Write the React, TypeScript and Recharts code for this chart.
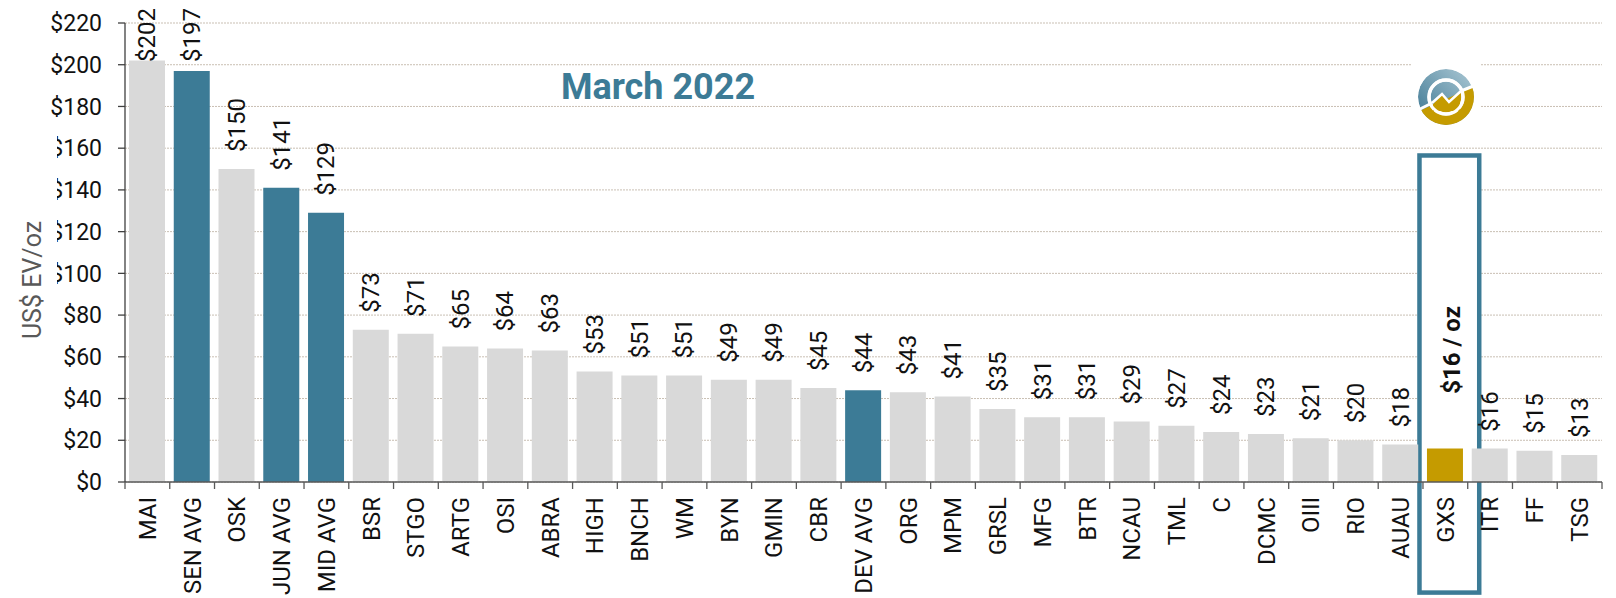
import React from 'react';
import {
  BarChart,
  Bar,
  Cell,
  XAxis,
  YAxis,
  CartesianGrid,
  LabelList,
  ReferenceArea,
} from 'recharts';

const categories = [
  'MAI', 'SEN AVG', 'OSK', 'JUN AVG', 'MID AVG', 'BSR', 'STGO', 'ARTG', 'OSI', 'ABRA',
  'HIGH', 'BNCH', 'WM', 'BYN', 'GMIN', 'CBR', 'DEV AVG', 'ORG', 'MPM', 'GRSL',
  'MFG', 'BTR', 'NCAU', 'TML', 'C', 'DCMC', 'OIII', 'RIO', 'AUAU', 'GXS',
  'ITR', 'FF', 'TSG',
];

const evPerOz = [
  202, 197, 150, 141, 129, 73, 71, 65, 64, 63,
  53, 51, 51, 49, 49, 45, 44, 43, 41, 35,
  31, 31, 29, 27, 24, 23, 21, 20, 18, 16,
  16, 15, 13,
];

const averages = ['SEN AVG', 'JUN AVG', 'MID AVG', 'DEV AVG'];
const highlight = 'GXS';
const yTicks = [0, 20, 40, 60, 80, 100, 120, 140, 160, 180, 200, 220];

const GREY = '#d9d9d9';
const TEAL = '#3c7b96';
const GOLD = '#c59b00';
const FONT = 'Roboto, "Liberation Sans", sans-serif';

const W = 1616;
const H = 598;
const MARGIN = { top: 23, right: 14, left: 0, bottom: 0 };
const Y_AXIS_W = 125;
const BAND = (W - MARGIN.left - MARGIN.right - Y_AXIS_W) / categories.length;

const data = categories.map((name, i) => ({ name, value: evPerOz[i] }));

function barColor(name: string) {
  if (name === highlight) return GOLD;
  if (averages.includes(name)) return TEAL;
  return GREY;
}

function CategoryTick(props: any) {
  const { x, y, payload, index } = props;
  const left = x - BAND / 2;
  const last = index === categories.length - 1;
  return (
    <g>
      <line x1={left} x2={left} y1={y} y2={y + 7} stroke="#595959" strokeWidth={1.3} />
      {last && <line x1={x + BAND / 2} x2={x + BAND / 2} y1={y} y2={y + 7} stroke="#595959" strokeWidth={1.3} />}
      <text
        x={x}
        y={y + 15}
        transform={`rotate(-90, ${x}, ${y + 15})`}
        textAnchor="end"
        dy="0.35em"
        fontSize={24}
        fontFamily={FONT}
        fill="#111"
      >
        {payload.value}
      </text>
    </g>
  );
}

function ValueLabel(props: any) {
  const { x, y, width, value, index } = props;
  if (categories[index] === highlight) return null;
  const cx = x + width / 2;
  const text = `$${value}`;
  const len = text.length * 13.5;
  const start = Math.max(y - 17, 8 + len);
  return (
    <text
      x={cx}
      y={start}
      transform={`rotate(-90, ${cx}, ${start})`}
      textAnchor="start"
      dy="0.35em"
      fontSize={24}
      fontFamily={FONT}
      fill="#111"
    >
      {text}
    </text>
  );
}

function HighlightBox(props: any) {
  const { x, y, width, height } = props;
  const bx = x - 3.5;
  const bw = width + 15;
  const cx = bx + bw / 2 + 2;
  const cy = 350;
  return (
    <g>
      <rect x={bx} y={y} width={bw} height={height} fill="#fff" stroke={TEAL} strokeWidth={4.5} />
      <text
        x={cx}
        y={cy}
        transform={`rotate(-90, ${cx}, ${cy})`}
        textAnchor="middle"
        dy="0.35em"
        fontSize={24}
        fontWeight={700}
        fontFamily={FONT}
        fill="#111"
      >
        $16 / oz
      </text>
    </g>
  );
}

function Overlay() {
  const lx = 1446;
  const ly = 97;
  return (
    <svg width={W} height={H} style={{ position: 'absolute', left: 0, top: 0, pointerEvents: 'none' }}>
      <defs>
        <linearGradient id="logoTeal" x1="0" y1="1" x2="1" y2="0">
          <stop offset="0%" stopColor="#3a7591" />
          <stop offset="100%" stopColor="#adc9d5" />
        </linearGradient>
        <clipPath id="logoClip">
          <circle cx={lx} cy={ly} r={28} />
        </clipPath>
      </defs>
      <rect x={0} y={128} width={57} height={310} fill="#fff" />
      <text
        x={32}
        y={280}
        transform="rotate(-90, 32, 280)"
        textAnchor="middle"
        dy="0.35em"
        fontSize={25}
        fontFamily={FONT}
        fill="#595959"
      >
        US$ EV/oz
      </text>
      <text x={658} y={99} textAnchor="middle" fontSize={36} fontWeight={700} fontFamily={FONT} fill={TEAL}>
        March 2022
      </text>
      <rect x={1411} y={62} width={69} height={70} fill="#fff" />
      <g clipPath="url(#logoClip)">
        <circle cx={lx} cy={ly} r={28} fill="url(#logoTeal)" />
        <polygon points={`${lx - 40},${ly + 20} ${lx + 40},${ly - 16} ${lx + 40},${ly + 40} ${lx - 40},${ly + 40}`} fill={GOLD} />
      </g>
      <circle cx={lx} cy={ly} r={17} fill="none" stroke="#fff" strokeWidth={3.5} />
      <polygon
        points={`${lx - 13},${ly + 7} ${lx - 4},${ly - 2} ${lx + 3},${ly + 6} ${lx + 14},${ly - 4} ${lx + 14},${ly + 14} ${lx - 13},${ly + 14}`}
        fill={GOLD}
        clipPath="url(#logoClip)"
      />
      <circle cx={lx} cy={ly} r={17} fill="none" stroke="#fff" strokeWidth={3} />
      <polyline
        points={`${lx - 14},${ly + 6} ${lx - 4},${ly - 3} ${lx + 3},${ly + 5} ${lx + 15},${ly - 6}`}
        fill="none"
        stroke="#fff"
        strokeWidth={2.5}
      />
      <line x1={lx - 30} y1={ly + 14} x2={lx - 14} y2={ly + 6} stroke="#fff" strokeWidth={3} />
      <line x1={lx + 15} y1={ly - 6} x2={lx + 30} y2={ly - 12} stroke="#fff" strokeWidth={3} />
    </svg>
  );
}

export default function App() {
  return (
    <div style={{ position: 'absolute', left: 0, top: 0, width: W, height: H, background: '#fff' }}>
      <BarChart width={W} height={H} data={data} margin={MARGIN} barSize={36}>
        <CartesianGrid vertical={false} stroke="#c9bfb3" strokeDasharray="2 1" />
        <ReferenceArea
          x1={highlight}
          x2={highlight}
          y1={-53}
          y2={156.5}
          ifOverflow="visible"
          shape={(p: any) => <HighlightBox {...p} />}
        />
        <XAxis
          dataKey="name"
          interval={0}
          height={116}
          tickLine={false}
          tickSize={0}
          tickMargin={0}
          axisLine={{ stroke: '#595959', strokeWidth: 1.5 }}
          tick={(p: any) => <CategoryTick {...p} />}
        />
        <YAxis
          width={Y_AXIS_W}
          domain={[0, 220]}
          ticks={yTicks}
          interval={0}
          tickSize={7}
          tickMargin={16}
          axisLine={{ stroke: '#404040', strokeWidth: 1.3 }}
          tickLine={{ stroke: '#404040', strokeWidth: 1.3 }}
          tickFormatter={(v: number) => `$${v}`}
          tick={{ fontSize: 23, fontFamily: FONT, fill: '#111' }}
        />
        <Bar dataKey="value" isAnimationActive={false}>
          {data.map((d) => (
            <Cell key={d.name} fill={barColor(d.name)} />
          ))}
          <LabelList dataKey="value" content={(p: any) => <ValueLabel {...p} />} />
        </Bar>
      </BarChart>
      <Overlay />
    </div>
  );
}
